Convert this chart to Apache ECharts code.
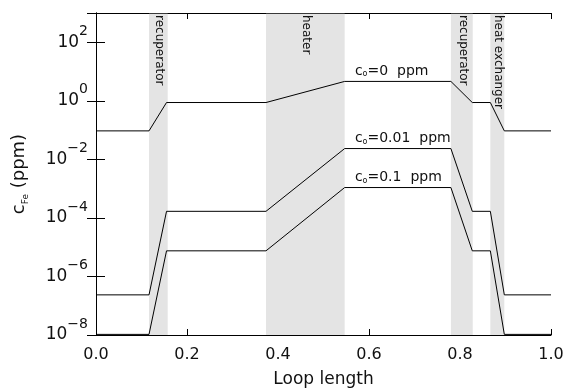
<!DOCTYPE html>
<html>
<head>
<meta charset="utf-8">
<script src="https://cdn.jsdelivr.net/npm/echarts@6/dist/echarts.min.js"></script>
<style>
  html, body { margin: 0; padding: 0; background: #fff; }
  #chart { width: 565px; height: 388px; }
</style>
</head>
<body>
<div id="chart"></div>
<script>
// breakpoints along the loop (fraction of loop length)
const loopX = [0, 0.1165, 0.155, 0.3736, 0.5465, 0.780, 0.827, 0.8667, 0.8974, 1.0];
// iron concentration (ppm) for each inlet oxygen level
const feC0_0 = [0.094, 0.094, 0.875, 0.875, 4.6, 4.6, 0.875, 0.875, 0.094, 0.094];
const feC0_001 = [2.35e-7, 2.35e-7, 1.68e-4, 1.68e-4, 0.0234, 0.0234, 1.68e-4, 1.68e-4, 2.35e-7, 2.35e-7];
const feC0_01 = [1.05e-8, 1.05e-8, 7.5e-6, 7.5e-6, 1.09e-3, 1.09e-3, 7.5e-6, 7.5e-6, 1.05e-8, 1.05e-8];
const c0Values = ['0', '0.01', '0.1'];
const c0LabelX = 0.569;

// shaded components
const regionNames = ['recuperator', 'heater', 'recuperator', 'heat exchanger'];
const regionStart = [0.1165, 0.3736, 0.780, 0.8667];
const regionEnd = [0.1576, 0.5465, 0.828, 0.8974];

const xMin = 0, xMax = 1, xStep = 0.2;
const yMin = 1e-8, yMax = 1e3, yStepDecades = 2;

const FONT = 'DejaVu Sans';
const INK = '#111';

const chart = echarts.init(document.getElementById('chart'), null, { renderer: 'canvas' });

const curves = [feC0_0, feC0_001, feC0_01].map((vals, i) => ({
  name: 'c0=' + c0Values[i],
  type: 'line',
  data: loopX.map((x, j) => [x, vals[j]]),
  symbol: 'none',
  silent: true,
  z: 4,
  lineStyle: { color: '#000', width: 1 },
  markPoint: {
    symbol: 'circle',
    symbolSize: 0,
    silent: true,
    data: [{
      coord: [c0LabelX, vals[4]],
      label: {
        show: true,
        position: [0, 0],
        align: 'left',
        verticalAlign: 'bottom',
        offset: [0, -3],
        formatter: '{c|c}{o|o}{t|=' + c0Values[i] + '  ppm}',
        rich: {
          c: { fontFamily: FONT, fontSize: 14, color: INK, lineHeight: 17, verticalAlign: 'bottom' },
          o: { fontFamily: FONT, fontSize: 8, color: INK, lineHeight: 9, verticalAlign: 'bottom' },
          t: { fontFamily: FONT, fontSize: 14, color: INK, lineHeight: 17, verticalAlign: 'bottom' }
        }
      }
    }]
  }
}));

const regions = {
  type: 'line',
  data: [],
  silent: true,
  z: 1,
  markArea: {
    silent: true,
    itemStyle: { color: '#e4e4e4' },
    label: { show: false },
    data: regionNames.map((n, i) => [
      { xAxis: regionStart[i], yAxis: yMin },
      { xAxis: regionEnd[i], yAxis: 9.4e2 }
    ])
  }
};

const axisLine = { show: true, lineStyle: { color: '#000', width: 1 } };

chart.setOption({
  animation: false,
  backgroundColor: '#fff',
  grid: { left: 96, right: 14, top: 13, bottom: 53, containLabel: false, outerBoundsMode: 'none' },
  xAxis: [{
    type: 'value',
    min: xMin, max: xMax, interval: xStep,
    position: 'bottom',
    axisLine,
    axisTick: { inside: true, length: 6, lineStyle: { color: '#000' } },
    splitLine: { show: false },
    axisLabel: {
      margin: 12, fontFamily: FONT, fontSize: 16, color: INK,
      formatter: v => v.toFixed(1)
    },
    name: 'Loop length',
    nameLocation: 'middle',
    nameGap: 36,
    nameTextStyle: { fontFamily: FONT, fontSize: 17, color: INK }
  }, {
    type: 'value',
    min: xMin, max: xMax, interval: xStep,
    position: 'top',
    axisLine,
    axisTick: { inside: true, length: 6, lineStyle: { color: '#000' } },
    axisLabel: { show: false },
    splitLine: { show: false }
  }],
  yAxis: [{
    type: 'log',
    logBase: 10,
    min: yMin, max: yMax, interval: yStepDecades,
    position: 'left',
    axisLine,
    axisTick: { inside: true, length: 9, lineStyle: { color: '#000' } },
    minorTick: { show: false },
    splitLine: { show: false },
    axisLabel: {
      margin: 8,
      showMaxLabel: false,
      formatter: v => {
        const e = Math.round(Math.log10(v));
        return '{b|10}{s|' + (e < 0 ? '\u2212' + (-e) : e) + '}';
      },
      rich: {
        b: { fontFamily: FONT, fontSize: 17, color: INK, lineHeight: 36 },
        s: { fontFamily: FONT, fontSize: 14, color: INK, lineHeight: 14, verticalAlign: 'top' }
      }
    },
    name: '{c|c}{s|Fe}{t| (ppm)}',
    nameLocation: 'middle',
    nameGap: 66,
    nameTextStyle: {
      rich: {
        c: { fontFamily: FONT, fontSize: 18, color: INK, lineHeight: 20, verticalAlign: 'top' },
        s: { fontFamily: FONT, fontSize: 9, color: INK, lineHeight: 11, verticalAlign: 'bottom' },
        t: { fontFamily: FONT, fontSize: 18, color: INK, lineHeight: 20, verticalAlign: 'top' }
      }
    }
  }, {
    type: 'log',
    logBase: 10,
    min: yMin, max: yMax, interval: yStepDecades,
    position: 'right',
    axisLine,
    axisTick: { inside: true, length: 9, lineStyle: { color: '#000' } },
    axisLabel: { show: false },
    splitLine: { show: false }
  }],
  series: [regions].concat(curves)
});

// vertical component names, anchored at each shaded band
const topY = chart.convertToPixel({ xAxisIndex: 0, yAxisIndex: 0 }, [0, yMax])[1];
chart.setOption({
  graphic: regionNames.map((n, i) => {
    const cx = chart.convertToPixel({ xAxisIndex: 0, yAxisIndex: 0 }, [(regionStart[i] + regionEnd[i]) / 2, yMax])[0];
    return {
      type: 'text',
      x: cx + 1,
      y: topY + 2,
      rotation: -Math.PI / 2,
      silent: true,
      z: 10,
      style: {
        text: n,
        fontFamily: FONT,
        fontSize: 12,
        fill: INK,
        textAlign: 'left',
        textVerticalAlign: 'middle'
      }
    };
  })
});
</script>
</body>
</html>
